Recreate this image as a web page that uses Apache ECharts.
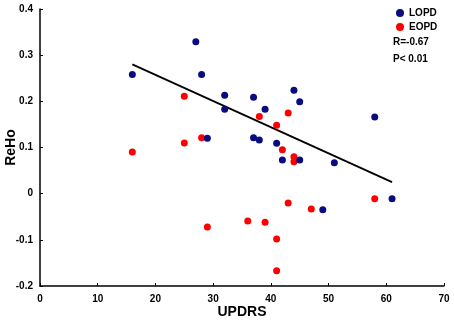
<!DOCTYPE html>
<html>
<head>
<meta charset="utf-8">
<script src="https://cdn.jsdelivr.net/npm/echarts@6/dist/echarts.min.js"></script>
<style>
  html, body { margin: 0; padding: 0; background: #fff; }
  #mychars { width: 454px; height: 332px; }
</style>
</head>
<body>
<div id="mychars"></div>
<script>
// UPDRS vs ReHo
var lopdUpdrs = [16, 27, 28, 29, 32, 32, 37, 37, 38, 39, 41, 42, 44, 45, 45, 51, 58, 49, 61];
var lopdReho  = [0.258, 0.329, 0.258, 0.120, 0.213, 0.183, 0.209, 0.121, 0.116, 0.183, 0.109, 0.073, 0.224, 0.199, 0.073, 0.067, 0.166, -0.035, -0.011];

var eopdUpdrs = [16, 25, 25, 28, 38, 41, 43, 42, 44, 44, 29, 36, 39, 41, 41, 43, 47, 58];
var eopdReho  = [0.090, 0.211, 0.110, 0.121, 0.167, 0.148, 0.175, 0.095, 0.080, 0.069, -0.072, -0.059, -0.062, -0.098, -0.167, -0.020, -0.033, -0.011];

// fitted line endpoints
var fitUpdrs = [16, 61];
var fitReho  = [0.280, 0.025];

var statsText = ["R=-0.67", "P< 0.01"];

function pairs(xs, ys) {
  return xs.map(function (x, i) { return [x, ys[i]]; });
}

var font = "'Liberation Sans', Arial, sans-serif";
var myChart = echarts.init(document.getElementById("mychars"));

myChart.setOption({
  animation: false,
  textStyle: { fontFamily: font },
  grid: {
    left: 40,
    right: 10,
    top: 9,
    bottom: 46,
    containLabel: false,
    outerBoundsMode: "none"
  },
  legend: {
    orient: "vertical",
    left: 391,
    top: 3,
    itemWidth: 8,
    itemHeight: 8,
    itemGap: 4,
    icon: "circle",
    data: ["LOPD", "EOPD"],
    textStyle: { fontFamily: font, fontWeight: "bold", fontSize: 10, color: "#000" }
  },
  graphic: [
    {
      type: "text",
      left: 393,
      top: 37,
      style: { text: statsText[0], font: "bold 10px " + font, fill: "#000" }
    },
    {
      type: "text",
      left: 393,
      top: 54,
      style: { text: statsText[1], font: "bold 10px " + font, fill: "#000" }
    }
  ],
  xAxis: {
    type: "value",
    min: 0,
    max: 70,
    interval: 10,
    name: "UPDRS",
    nameLocation: "middle",
    nameGap: 19,
    nameMoveOverlap: false,
    nameTextStyle: { fontFamily: font, fontWeight: "bold", fontSize: 14, color: "#000" },
    axisLine: { onZero: false, lineStyle: { color: "#000", width: 1.5 } },
    axisTick: { inside: true, length: 3, lineStyle: { color: "#000" } },
    axisLabel: { fontFamily: font, fontWeight: "bold", fontSize: 10, color: "#000", margin: 8 },
    splitLine: { show: false }
  },
  yAxis: {
    type: "value",
    min: -0.2,
    max: 0.4,
    interval: 0.1,
    name: "ReHo",
    nameLocation: "middle",
    nameGap: 22,
    nameMoveOverlap: false,
    nameTextStyle: { fontFamily: font, fontWeight: "bold", fontSize: 14, color: "#000" },
    axisLine: { show: true, onZero: false, lineStyle: { color: "#000", width: 1.5 } },
    axisTick: { show: true, inside: true, length: 3, lineStyle: { color: "#000" } },
    axisLabel: {
      fontFamily: font, fontWeight: "bold", fontSize: 10, color: "#000", margin: 7,
      formatter: function (v) { return String(Math.round(v * 10) / 10); }
    },
    splitLine: { show: false }
  },
  series: [
    {
      name: "fit",
      type: "line",
      data: pairs(fitUpdrs, fitReho),
      symbol: "none",
      lineStyle: { color: "#000", width: 1.8 },
      z: 1
    },
    {
      name: "LOPD",
      type: "scatter",
      data: pairs(lopdUpdrs, lopdReho),
      symbolSize: 7,
      itemStyle: { color: "#0b0b80", opacity: 1 },
      z: 3
    },
    {
      name: "EOPD",
      type: "scatter",
      data: pairs(eopdUpdrs, eopdReho),
      symbolSize: 7,
      itemStyle: { color: "#ff0000", opacity: 1 },
      z: 2
    }
  ]
});
</script>
</body>
</html>
